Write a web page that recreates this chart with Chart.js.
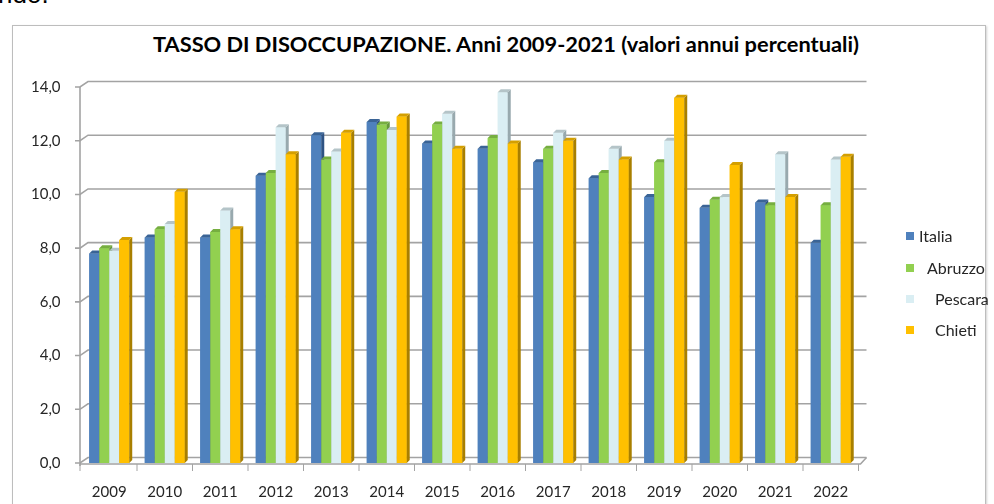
<!DOCTYPE html>
<html>
<head>
<meta charset="utf-8">
<script src="https://cdn.jsdelivr.net/npm/chart.js@4.4.0/dist/chart.umd.min.js"></script>
<style>
  html, body { margin: 0; padding: 0; background: #fff; overflow: hidden; }
  #wrap { position: relative; width: 994px; height: 504px; }
  #frag { position: absolute; left: -2px; top: -21px; font: 26px Arial, sans-serif; color: #000; }
  #frame { position: absolute; left: 12px; top: 25px; width: 972px; height: 520px; border: 1px solid #bdbdbd; box-shadow: 1px 1px 2px rgba(0,0,0,0.18); }
  #title { position: absolute; left: 0; width: 1012px; top: 30px; text-align: center; font: bold 21.8px Lato, sans-serif; color: #000; }
  canvas { position: absolute; left: 0; top: 0; }
  .lg { position: absolute; font: 16px Lato, sans-serif; color: #262626; line-height: 18px; }
  .lg i { position: absolute; width: 8px; height: 8px; top: 5px; }
</style>
</head>
<body>
<div id="wrap">
  <div id="frag">ndo.</div>
  <div id="frame"></div>
  <div id="title">TASSO DI DISOCCUPAZIONE. Anni 2009-2021 (valori annui percentuali)</div>
  <canvas id="chart" width="994" height="504"></canvas>
  <div id="legend"></div>
</div>
<script>
// ── Data ──
const years = ['2009','2010','2011','2012','2013','2014','2015','2016','2017','2018','2019','2020','2021','2022'];
const italia  = [7.8, 8.4, 8.4, 10.7, 12.2, 12.7, 11.9, 11.7, 11.2, 10.6, 9.9, 9.5, 9.7, 8.2];
const abruzzo = [8.0, 8.7, 8.6, 10.8, 11.3, 12.6, 12.6, 12.1, 11.7, 10.8, 11.2, 9.8, 9.6, 9.6];
const pescara = [7.9, 8.9, 9.4, 12.5, 11.6, 12.4, 13.0, 13.8, 12.3, 11.7, 12.0, 9.9, 11.5, 11.3];
const chieti  = [8.3, 10.1, 8.7, 11.5, 12.3, 12.9, 11.7, 11.9, 12.0, 11.3, 13.6, 11.1, 9.9, 11.4];
const seriesNames = ['Italia', 'Abruzzo', 'Pescara', 'Chieti'];

// front / side / top colours of the 3D columns
const frontColors = ['#4F81BD', '#92D050', '#DAEEF3', '#FFC000'];
const sideColors  = ['#2F5383', '#64973A', '#98A9AE', '#A87F00'];
const topColors   = ['#3A6496', '#76AE40', '#B4C4C8', '#D49F00'];

const DEPTH = 3;          // bar depth in px
const WALL_DX = 8, WALL_DY = 5.5;
const LINE = '#a3a3a3';

// ── Legend (html) ──
const legendPos = [
  { top: 227, text: 919 }, { top: 259, text: 927 },
  { top: 290, text: 935 }, { top: 321, text: 935 },
];
const legendEl = document.getElementById('legend');
seriesNames.forEach((name, i) => {
  const d = document.createElement('div');
  d.className = 'lg';
  d.style.left = '906px';
  d.style.top = legendPos[i].top + 'px';
  d.innerHTML = '<i style="left:0;background:' + frontColors[i] + '"></i>' +
    '<span style="position:absolute;left:' + (legendPos[i].text - 906) + 'px;white-space:nowrap">' + name + '</span>';
  legendEl.appendChild(d);
});

// ── 3D walls, floor and column faces ──
const bar3d = {
  id: 'bar3d',
  beforeDatasetsDraw(chart) {
    const { ctx, chartArea: a, scales: { y } } = chart;
    const fx = 80;                 // front axis x
    const bx = fx + WALL_DX;       // back wall left x
    const rx = a.right + WALL_DX;  // back wall right x
    ctx.save();
    ctx.strokeStyle = LINE;
    ctx.lineWidth = 1.6;
    y.ticks.forEach(t => {
      const yf = y.getPixelForValue(t.value);
      ctx.beginPath();
      ctx.moveTo(fx - 5, yf); ctx.lineTo(fx, yf);
      ctx.lineTo(bx, yf - WALL_DY);
      ctx.lineTo(rx, yf - WALL_DY);
      ctx.stroke();
    });
    // front vertical axis
    const y0 = y.getPixelForValue(0);
    ctx.beginPath();
    ctx.moveTo(fx, y.getPixelForValue(14));
    ctx.lineTo(fx, y0 + 3);
    ctx.stroke();
    // floor
    ctx.beginPath();
    ctx.moveTo(fx, y0 + 1);
    ctx.lineTo(a.right + 2, y0 + 1);
    ctx.lineTo(rx, y0 - WALL_DY);
    ctx.stroke();
    // category ticks on the front edge
    const xs = chart.scales.x;
    ctx.lineWidth = 1;
    for (let i = 0; i <= years.length; i++) {
      const px = i === 0 ? fx : xs.getPixelForValue(i - 0.5);
      ctx.beginPath();
      ctx.moveTo(px, y0 + 1); ctx.lineTo(px, y0 + 8);
      ctx.stroke();
    }
    ctx.restore();
  },
  afterDatasetsDraw(chart) {
    const ctx = chart.ctx;
    const metas = chart.data.datasets.map((d, i) => chart.getDatasetMeta(i));
    ctx.save();
    for (let j = 0; j < years.length; j++) {
      metas.forEach((m, i) => {
        const { x, y, base, width } = m.data[j].getProps(['x', 'y', 'base', 'width'], true);
        const l = x - width / 2, r = x + width / 2;
        ctx.fillStyle = frontColors[i];
        ctx.fillRect(l, y, width, base - y);
        ctx.fillStyle = sideColors[i];
        ctx.beginPath();
        ctx.moveTo(r, y); ctx.lineTo(r + DEPTH, y - DEPTH);
        ctx.lineTo(r + DEPTH, base - DEPTH); ctx.lineTo(r, base);
        ctx.closePath(); ctx.fill();
        ctx.fillStyle = topColors[i];
        ctx.beginPath();
        ctx.moveTo(l, y); ctx.lineTo(l + DEPTH, y - DEPTH);
        ctx.lineTo(r + DEPTH, y - DEPTH); ctx.lineTo(r, y);
        ctx.closePath(); ctx.fill();
      });
    }
    ctx.restore();
  }
};

const seriesData = [italia, abruzzo, pescara, chieti];

new Chart(document.getElementById('chart'), {
  type: 'bar',
  data: {
    labels: years,
    datasets: seriesNames.map((name, i) => ({
      label: name,
      data: seriesData[i],
      backgroundColor: frontColors[i],
      borderWidth: 0,
      categoryPercentage: 0.72,
      barPercentage: 1.0,
    })),
  },
  options: {
    responsive: false,
    animation: false,
    layout: { padding: { left: 0, right: 135.5, top: 87, bottom: 0 } },
    plugins: {
      legend: { display: false },
      title: { display: false },
      tooltip: { enabled: false },
    },
    scales: {
      x: {
        grid: { display: false, drawTicks: false },
        border: { display: false },
        ticks: { color: '#262626', font: { family: 'Lato', size: 15 }, padding: 20, maxRotation: 0 },
        afterFit(s) { s.height = 41; },
      },
      y: {
        min: 0, max: 14,
        grid: { display: false, drawTicks: false },
        border: { display: false },
        ticks: {
          stepSize: 2,
          color: '#262626',
          font: { family: 'Lato', size: 15 },
          padding: 21,
          callback: v => v.toFixed(1).replace('.', ','),
        },
        afterFit(s) { s.width = 81.5; },
      },
    },
  },
  plugins: [bar3d],
});
</script>
</body>
</html>
